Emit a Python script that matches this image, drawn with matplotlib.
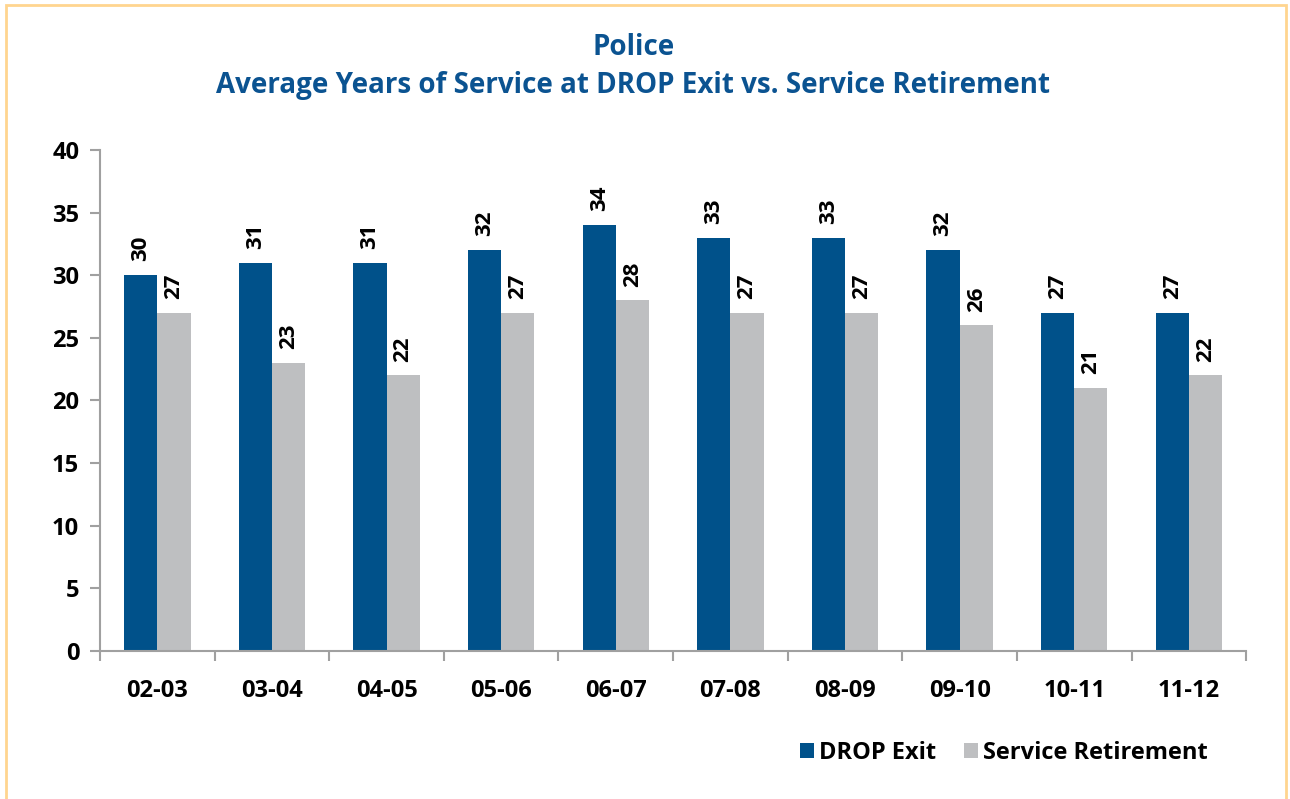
import numpy as np
import matplotlib.pyplot as plt
from matplotlib.patches import Rectangle

plt.rcParams['font.family'] = ['Open Sans', 'DejaVu Sans']

years = ["02-03", "03-04", "04-05", "05-06", "06-07",
         "07-08", "08-09", "09-10", "10-11", "11-12"]
drop_exit = [30, 31, 31, 32, 34, 33, 33, 32, 27, 27]
service_ret = [27, 23, 22, 27, 28, 27, 27, 26, 21, 22]

BLUE = "#00518A"
GRAY = "#BEBFC1"
AXIS = "#A0A0A0"
TITLE = "#0B5391"

fig = plt.figure(figsize=(12.9, 7.99), dpi=100)
ax = fig.add_axes([0.0775, 0.1852, 0.8885, 0.6271])

x = np.arange(len(years))
w = 0.29
b1 = ax.bar(x - w / 2, drop_exit, w, color=BLUE, label="DROP Exit")
b2 = ax.bar(x + w / 2, service_ret, w, color=GRAY, label="Service Retirement")

for bars in (b1, b2):
    for r in bars:
        ax.text(r.get_x() + r.get_width() / 2, r.get_height() + 1.1,
                f"{r.get_height():.0f}", rotation=90, ha="center", va="bottom",
                fontsize=16, fontweight="bold")

ax.set_xlim(-0.5, len(years) - 0.5)
ax.set_ylim(0, 40)
ax.set_yticks(range(0, 41, 5))
ax.set_xticks(x)
ax.set_xticklabels(years)
ax.set_xticks(np.arange(-0.5, len(years)), minor=True)
ax.tick_params(axis="x", which="major", length=0, pad=20, labelsize=17)
ax.tick_params(axis="x", which="minor", length=7, width=1.5, color=AXIS, direction="out")
ax.tick_params(axis="y", length=7, width=1.5, color=AXIS, labelsize=17, pad=8)
for lab in ax.get_xticklabels() + ax.get_yticklabels():
    lab.set_fontweight("bold")

for s in ("top", "right"):
    ax.spines[s].set_visible(False)
for s in ("left", "bottom"):
    ax.spines[s].set_color(AXIS)
    ax.spines[s].set_linewidth(1.5)

fig.text(0.491, 0.917, "Police\nAverage Years of Service at DROP Exit vs. Service Retirement",
         ha="center", va="center", fontsize=20, fontweight="bold", color=TITLE,
         linespacing=1.4)

fig.legend(handles=[b1, b2], loc="center", bbox_to_anchor=(0.778, 0.058),
           ncol=2, frameon=False, prop={"weight": "bold", "size": 17},
           handlelength=0.6, handleheight=0.6, handletextpad=0.2, columnspacing=1.2)

# outer frame
fig.patches.append(Rectangle((0.005, -0.01), 0.992, 1.004, transform=fig.transFigure,
                             fill=False, edgecolor="#FFD58F", linewidth=2))

fig.savefig("out.png", dpi=100)
